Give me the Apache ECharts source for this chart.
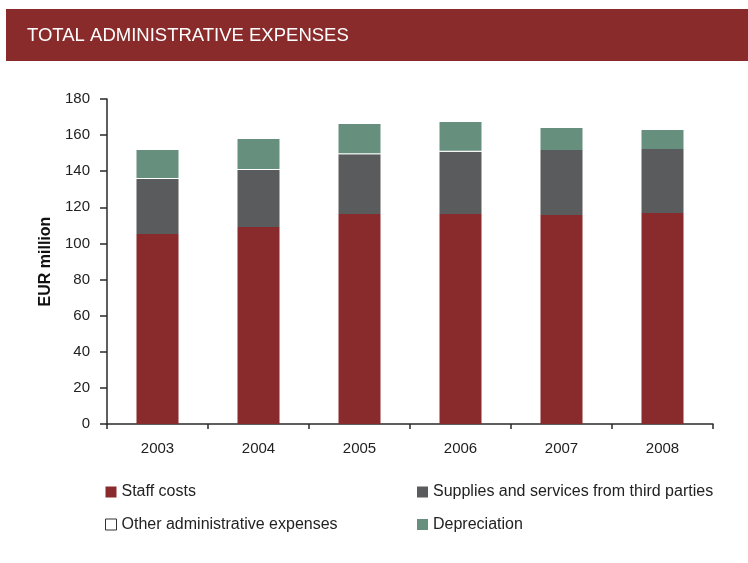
<!DOCTYPE html>
<html>
<head>
<meta charset="utf-8">
<script src="https://cdn.jsdelivr.net/npm/echarts@6/dist/echarts.min.js"></script>
<style>
  html, body { margin: 0; padding: 0; background: #fff; }
  #chart { width: 748px; height: 563px; }
</style>
</head>
<body>
<div id="chart"></div>
<script>
// Administrative expenses by year, EUR million
const years = ['2003', '2004', '2005', '2006', '2007', '2008'];
const staffCosts = [105.2, 109.1, 116.3, 116.3, 115.7, 116.8];
const suppliesServices = [30.5, 31.6, 33.1, 34.5, 36.0, 35.5];
const otherExpenses = [0.6, 0.6, 0.6, 0.6, 0, 0];
const depreciation = [15.4, 16.5, 16.1, 15.8, 12.2, 10.5];
const yTicks = [0, 20, 40, 60, 80, 100, 120, 140, 160, 180];

const RED = '#892a2c';
const GREY = '#5a5b5d';
const GREEN = '#668f7e';
const FONT = '"Liberation Sans", Arial, sans-serif';

const chart = echarts.init(document.getElementById('chart'), null, { renderer: 'canvas' });

const legendText = { fontFamily: FONT, fontSize: 16, lineHeight: 16, color: '#222' };
const legendBase = {
  orient: 'vertical',
  top: 484,
  padding: 0,
  icon: 'rect',
  itemWidth: 11,
  itemHeight: 11,
  itemGap: 16.5,
  textStyle: legendText
};

chart.setOption({
  animation: false,
  backgroundColor: '#fff',
  graphic: [{
    type: 'rect',
    shape: { x: 6, y: 9, width: 742, height: 52 },
    style: { fill: '#892a2b' },
    z: 0
  }],
  title: {
    text: 'TOTAL ADMINISTRATIVE EXPENSES',
    left: 27,
    top: 26,
    padding: 0,
    textStyle: { fontFamily: FONT, fontSize: 18.5, fontWeight: 'normal', color: '#fff' }
  },
  legend: [Object.assign({}, legendBase, {
    left: 105,
    data: [
      { name: 'Staff costs' },
      { name: 'Other administrative expenses', itemStyle: { color: '#fff', borderColor: '#333', borderWidth: 1 } }
    ]
  }), Object.assign({}, legendBase, {
    left: 417,
    data: [{ name: 'Supplies and services from third parties' }, { name: 'Depreciation' }]
  })],
  grid: { left: 107, right: 35, top: 99, bottom: 139, containLabel: false },
  xAxis: {
    type: 'category',
    data: years,
    axisLine: { lineStyle: { color: '#2a2a2a', width: 1.5 } },
    axisTick: { show: true, alignWithLabel: false, length: 5, lineStyle: { color: '#2a2a2a', width: 1.5 } },
    axisLabel: { fontFamily: FONT, fontSize: 15, color: '#222', margin: 17 }
  },
  yAxis: {
    type: 'value',
    min: yTicks[0],
    max: yTicks[yTicks.length - 1],
    interval: yTicks[1] - yTicks[0],
    name: 'EUR million',
    nameLocation: 'middle',
    nameGap: 52,
    nameRotate: 90,
    nameTextStyle: { fontFamily: FONT, fontSize: 16, fontWeight: 'bold', color: '#111' },
    axisLine: { show: true, lineStyle: { color: '#2a2a2a', width: 1.5 } },
    axisTick: { show: true, length: 7, lineStyle: { color: '#2a2a2a', width: 1.5 } },
    axisLabel: { fontFamily: FONT, fontSize: 15, color: '#222', margin: 17 },
    splitLine: { show: false }
  },
  series: [
    { name: 'Staff costs', type: 'bar', stack: 'total', barWidth: 42, data: staffCosts, itemStyle: { color: RED } },
    { name: 'Supplies and services from third parties', type: 'bar', stack: 'total', data: suppliesServices, itemStyle: { color: GREY } },
    { name: 'Other administrative expenses', type: 'bar', stack: 'total', data: otherExpenses, itemStyle: { color: '#fff' } },
    { name: 'Depreciation', type: 'bar', stack: 'total', data: depreciation, itemStyle: { color: GREEN } }
  ]
});
</script>
</body>
</html>
